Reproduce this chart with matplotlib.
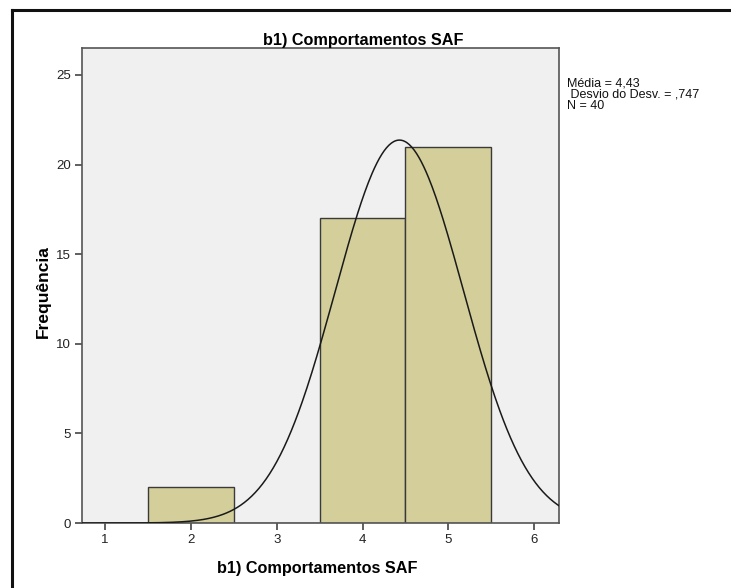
import numpy as np
import matplotlib.pyplot as plt
from matplotlib.lines import Line2D

# bins (centre) and counts
bin_centres = [2, 3, 4, 5]
counts = [2, 0, 17, 21]
mean = 4.43
sd = 0.747
n = 40
bin_width = 1.0

plt.rcParams['font.family'] = ['Liberation Sans', 'DejaVu Sans']

W, H = 731, 588
fig = plt.figure(figsize=(W / 100, H / 100), dpi=100)
ax = fig.add_axes([82 / W, 1 - 523 / H, 477 / W, 475 / H])
ax.set_facecolor('#f0f0f0')

ax.bar(bin_centres, counts, width=bin_width, color='#d3ce9a',
       edgecolor='#3a3a3a', linewidth=1.0, zorder=2)

# normal curve scaled to counts
xs = np.linspace(0.7, 6.3, 400)
ys = n * bin_width / (sd * np.sqrt(2 * np.pi)) * np.exp(-0.5 * ((xs - mean) / sd) ** 2)
ax.plot(xs, ys, color='#1a1a1a', linewidth=1.1, zorder=3)

ax.set_xlim(0.73, 6.29)
ax.set_ylim(0, 26.5)
ax.set_xticks([1, 2, 3, 4, 5, 6])
ax.set_yticks([0, 5, 10, 15, 20, 25])
for s in ax.spines.values():
    s.set_color('#555555')
    s.set_linewidth(1.2)
ax.tick_params(direction='out', length=5, width=1.2, color='#444444',
               labelsize=9.5, labelcolor='#222222', pad=3)

fig.text(263 / W, 1 - 45 / H, 'b1) Comportamentos SAF', fontsize=11.7,
         fontweight='bold', ha='left', va='baseline')
fig.text(317 / W, 1 - 573 / H, 'b1) Comportamentos SAF', fontsize=11.7,
         fontweight='bold', ha='center', va='baseline')
fig.text(43 / W, 1 - 292 / H, 'Frequência', fontsize=12.5, fontweight='bold',
         rotation=90, ha='center', va='center')

fig.text(567 / W, 1 - 77 / H,
         'Média = 4,43\n Desvio do Desv. = ,747\nN = 40',
         fontsize=9, va='top', ha='left', linespacing=0.95, color='#111111')

# frame lines at top and left of the figure
fig.add_artist(Line2D([12 / W, 1], [1 - 10 / H] * 2, color='#111111', linewidth=2.2))
fig.add_artist(Line2D([12 / W] * 2, [0, 1 - 10 / H], color='#111111', linewidth=2.2))

fig.savefig('out.png', dpi=100)
